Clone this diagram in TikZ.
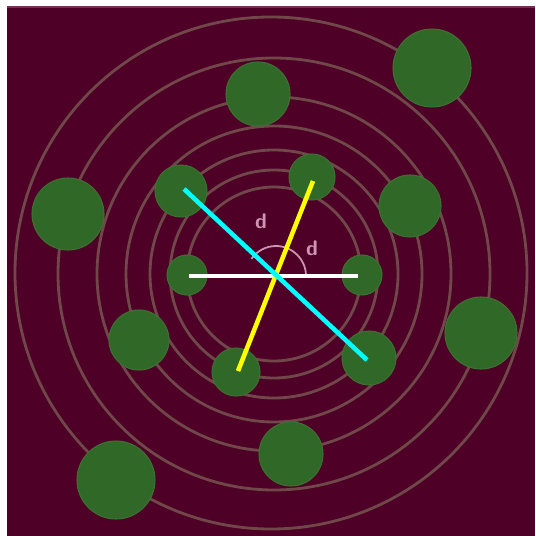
\documentclass[tikz,border=0pt]{standalone}
\usepackage{tikz}
\usetikzlibrary{positioning}
\definecolor{bgmaroon}{RGB}{78,0,38}
\definecolor{ringgray}{RGB}{112,72,74}
\definecolor{leafgreen}{RGB}{48,104,40}
\definecolor{leafedge}{RGB}{62,112,52}
\definecolor{arcpink}{RGB}{206,150,178}
\definecolor{axcyan}{RGB}{0,255,255}
\definecolor{axyellow}{RGB}{255,255,0}
\tikzset{
  ring/.style={draw=ringgray, line width=1.6pt},
  blob/.style={circle, fill=leafgreen, draw=leafedge, line width=0.6pt, inner sep=0pt},
  axis/.style={line width=2.6pt},
  lbl/.style={font=\sffamily\bfseries\large, text=arcpink, inner sep=0pt}
}

\begin{document}
\begin{tikzpicture}[x=0.02cm, y=-0.02cm]
\useasboundingbox (0,0) rectangle (535,536);

% --- background ---
\fill[white] (0,0) rectangle (535,536);
\fill[bgmaroon] (7,6) rectangle (535,536);
\fill[bgmaroon!80!white] (7,6) rectangle (535,8);

% --- rings ---
\coordinate (ctr) at (274,274);
\draw[ring] (271,273) circle[radius=256];
\foreach \r in {216,177,148,124,104,87} {
    \draw[ring] (ctr) circle[radius=\r];
}

% --- green spots ---
\foreach \name/\x/\y/\d in {g1/432/68/78, g2/258/94/64, g3/68/214/72, g4/181/191/52,
    g5/312/177/46, g6/410/206/62, g7/187/275/40, g8/362/275/40, g9/139/340/60,
    g10/236/372/48, g11/369/358/54, g12/481/333/72, g13/291/454/64, g14/116/480/78} {
    \node[blob, minimum size=\d*0.02cm] (\name) at (\x,\y) {};
}

% --- angle arc and labels ---
\coordinate (X) at (276,276);
\draw[arcpink, line width=1pt] (X) ++(30,0) arc[start angle=0, end angle=-145, radius=30];
\node[lbl] (la) at (261,221) {d};
\node[lbl] (lb) at (312,248) {d};

% --- axes ---
\coordinate (wA) at (189,276);
\coordinate (wB) at (358,276);
\coordinate (cA) at (184,189);
\coordinate (cB) at (367,360);
\coordinate (yA) at (313,181);
\coordinate (yB) at (238,371);
\draw[axis, white] (wA) -- (wB);
\draw[axis, axyellow] (yA) -- (yB);
\draw[axis, axcyan] (cA) -- (cB);

\end{tikzpicture}
\end{document}
